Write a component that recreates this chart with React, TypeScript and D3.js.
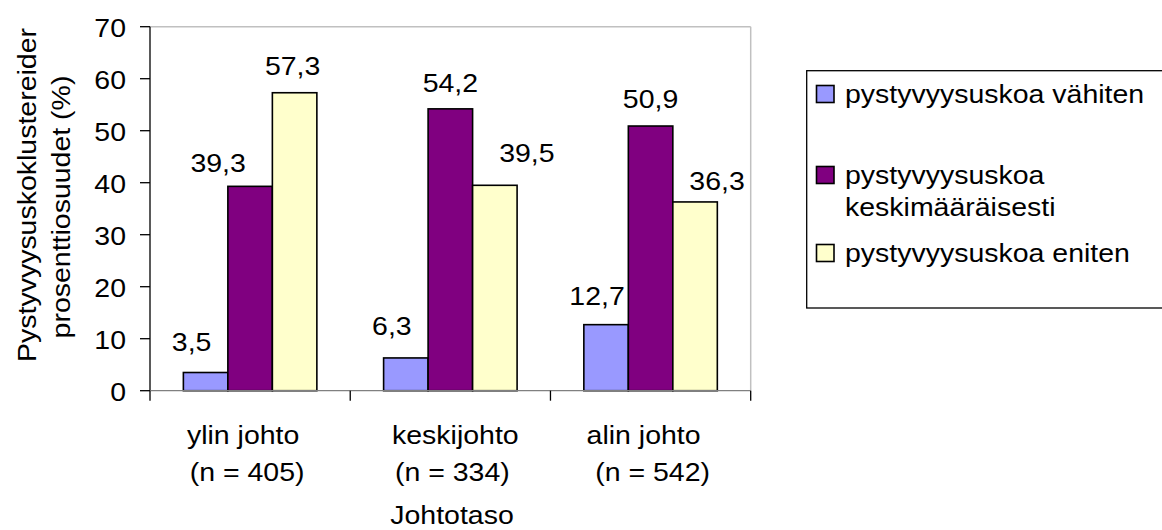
import React from "react";
import * as d3 from "d3";

const categories = ["ylin johto", "keskijohto", "alin johto"];
const categorySubLabels = ["(n = 405)", "(n = 334)", "(n = 542)"];
const seriesNames = [
  "pystyvyysuskoa vähiten",
  "pystyvyysuskoa keskimääräisesti",
  "pystyvyysuskoa eniten",
];
const legendLines = [
  ["pystyvyysuskoa vähiten"],
  ["pystyvyysuskoa", "keskimääräisesti"],
  ["pystyvyysuskoa eniten"],
];
const seriesColors = ["#9999FF", "#800080", "#FFFFCC"];
const vahiten = [3.5, 6.3, 12.7];
const keskimaarin = [39.3, 54.2, 50.9];
const eniten = [57.3, 39.5, 36.3];
const yTicks = [0, 10, 20, 30, 40, 50, 60, 70];
const yTitle = ["Pystyvyysuskoklustereider", "prosenttiosuudet (%)"];
const xTitle = "Johtotaso";

// layout / style constants
const W = 1162;
const H = 530;
const plot = { left: 150, right: 750.7, top: 26.7, bottom: 390.7 };
const FONT = "'Liberation Sans', Arial, sans-serif";
const FS = 26.5;
const SX = 1.075;
// manual label nudges (per series, per category), as placed in the original
const labelDx = [
  [-14, -14, -9],
  [-32, 0, 0],
  [-2, 32, 22],
];
const labelGap = [
  [22, 23, 20],
  [14, 17, 18],
  [18, 23, 12],
];
const catDx1 = [-7, 5, -7];
const catDx2 = [-3, 2, 2];

function T({
  x,
  y,
  anchor = "start",
  dy,
  children,
}: {
  x: number;
  y: number;
  anchor?: string;
  dy?: string;
  children: React.ReactNode;
}) {
  return (
    <text
      transform={`translate(${x},${y}) scale(${SX},1)`}
      textAnchor={anchor as any}
      dy={dy}
      fontSize={FS}
      fill="#000"
    >
      {children}
    </text>
  );
}

export default function App() {
  const series = [vahiten, keskimaarin, eniten];
  const x0 = d3
    .scaleBand<string>()
    .domain(categories)
    .range([plot.left, plot.right])
    .paddingInner(0)
    .paddingOuter(0);
  const bw = x0.bandwidth();
  // Excel gap width 150%: bar width = band / (3 + 1.5)
  const barW = bw / 4.5;
  const groupOffset = (bw - barW * 3) / 2;
  const y = d3.scaleLinear().domain([0, 70]).range([plot.bottom, plot.top]);

  const fmt = (v: number) => v.toFixed(1).replace(".", ",");

  const legend = { left: 806.7, top: 70.7, bottom: 308, right: 1175 };
  const legendY = [94, 175, 253];

  return (
    <div style={{ position: "absolute", left: 0, top: 0 }}>
      <svg width={W} height={H} style={{ display: "block", background: "#fff", fontFamily: FONT }}>
        <rect x={0} y={0} width={W} height={H} fill="#fff" />
        {/* plot border: top & right gray */}
        <line x1={plot.left} x2={plot.right} y1={plot.top} y2={plot.top} stroke="#c0c0c0" strokeWidth={1.5} />
        <line x1={plot.right} x2={plot.right} y1={plot.top} y2={plot.bottom} stroke="#c0c0c0" strokeWidth={1.5} />

        {/* bars */}
        {series.map((vals, si) =>
          vals.map((v, ci) => {
            const bx = (x0(categories[ci]) as number) + groupOffset + si * barW;
            return (
              <rect
                key={`b${si}-${ci}`}
                x={bx}
                y={y(v)}
                width={barW}
                height={y(0) - y(v)}
                fill={seriesColors[si]}
                stroke="#000"
                strokeWidth={1.6}
              />
            );
          })
        )}

        {/* axes */}
        <line x1={plot.left} x2={plot.left} y1={plot.top} y2={plot.bottom} stroke="#000" strokeWidth={1.3} />
        <line x1={plot.left} x2={plot.right} y1={plot.bottom} y2={plot.bottom} stroke="#808080" strokeWidth={1.3} />
        {yTicks.map((t) => (
          <g key={`yt${t}`}>
            <line x1={plot.left - 10} x2={plot.left} y1={y(t)} y2={y(t)} stroke="#000" strokeWidth={1.3} />
            <T x={126} y={y(t)} dy="0.38em" anchor="end">
              {t}
            </T>
          </g>
        ))}
        {[...categories.map((c) => x0(c) as number), plot.right].map((xx, i) => (
          <line key={`xt${i}`} x1={xx} x2={xx} y1={plot.bottom} y2={plot.bottom + 10} stroke="#000" strokeWidth={1.3} />
        ))}

        {/* value labels */}
        {series.map((vals, si) =>
          vals.map((v, ci) => {
            const bx = (x0(categories[ci]) as number) + groupOffset + si * barW + barW / 2;
            return (
              <T key={`l${si}-${ci}`} x={bx + labelDx[si][ci]} y={y(v) - labelGap[si][ci]} anchor="middle">
                {fmt(v)}
              </T>
            );
          })
        )}

        {/* category labels */}
        {categories.map((c, i) => {
          const cx = (x0(c) as number) + bw / 2;
          return (
            <g key={`c${i}`}>
              <T x={cx + catDx1[i]} y={444} anchor="middle">
                {c}
              </T>
              <T x={cx + catDx2[i]} y={481} anchor="middle">
                {categorySubLabels[i]}
              </T>
            </g>
          );
        })}
        <T x={452} y={524} anchor="middle">
          {xTitle}
        </T>

        {/* y title */}
        <g transform={`translate(36, 195) rotate(-90)`}>
          <T x={0} y={0} anchor="middle">
            {yTitle[0]}
          </T>
        </g>
        <g transform={`translate(70, 207) rotate(-90)`}>
          <T x={0} y={0} anchor="middle">
            {yTitle[1]}
          </T>
        </g>

        {/* legend */}
        <rect
          x={legend.left}
          y={legend.top}
          width={legend.right - legend.left}
          height={legend.bottom - legend.top}
          fill="#fff"
          stroke="#000"
          strokeWidth={1.3}
        />
        {seriesNames.map((name, i) => (
          <g key={`lg${i}`}>
            <rect
              x={816.5}
              y={legendY[i] - 8.5}
              width={17.5}
              height={17}
              fill={seriesColors[i]}
              stroke="#000"
              strokeWidth={1.6}
            />
            {legendLines[i].map((ln, k) => (
              <T key={k} x={845} y={legendY[i] + k * 32} dy="0.35em">
                {ln}
              </T>
            ))}
          </g>
        ))}
      </svg>
    </div>
  );
}
